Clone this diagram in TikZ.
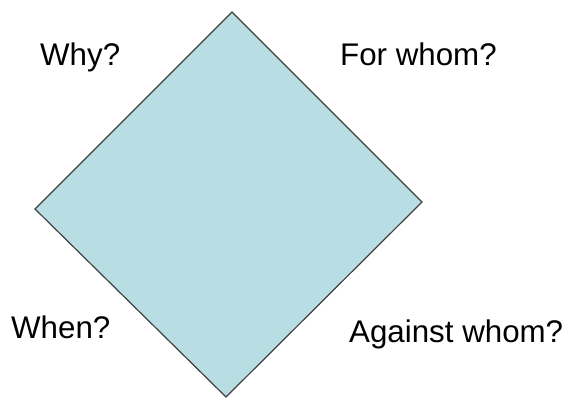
\documentclass[tikz,border=0pt]{standalone}
\usepackage{fontspec}
\setmainfont{Liberation Sans}
\definecolor{diafill}{RGB}{184,222,227}
\definecolor{diaedge}{RGB}{64,64,64}
\begin{document}
\begin{tikzpicture}[x=1pt,y=1pt,
  lbl/.style={anchor=base west,inner sep=0pt,font=\fontsize{31.3}{36}\selectfont,text=black}]
\useasboundingbox (0,0) rectangle (564,397);
\coordinate (top) at (232,385);
\coordinate (right) at (422,195);
\coordinate (bottom) at (226,0);
\coordinate (left) at (35,188);
\draw[fill=diafill,draw=diaedge,line width=1.2pt,line join=miter] (top) -- (right) -- (bottom) -- (left) -- cycle;
\node[lbl] (why) at (40,331) {Why?};
\node[lbl] (forwhom) at (340,331) {For whom?};
\node[lbl] (when) at (11,59) {When?};
\node[lbl] (against) at (349,55) {Against whom?};
\end{tikzpicture}
\end{document}
